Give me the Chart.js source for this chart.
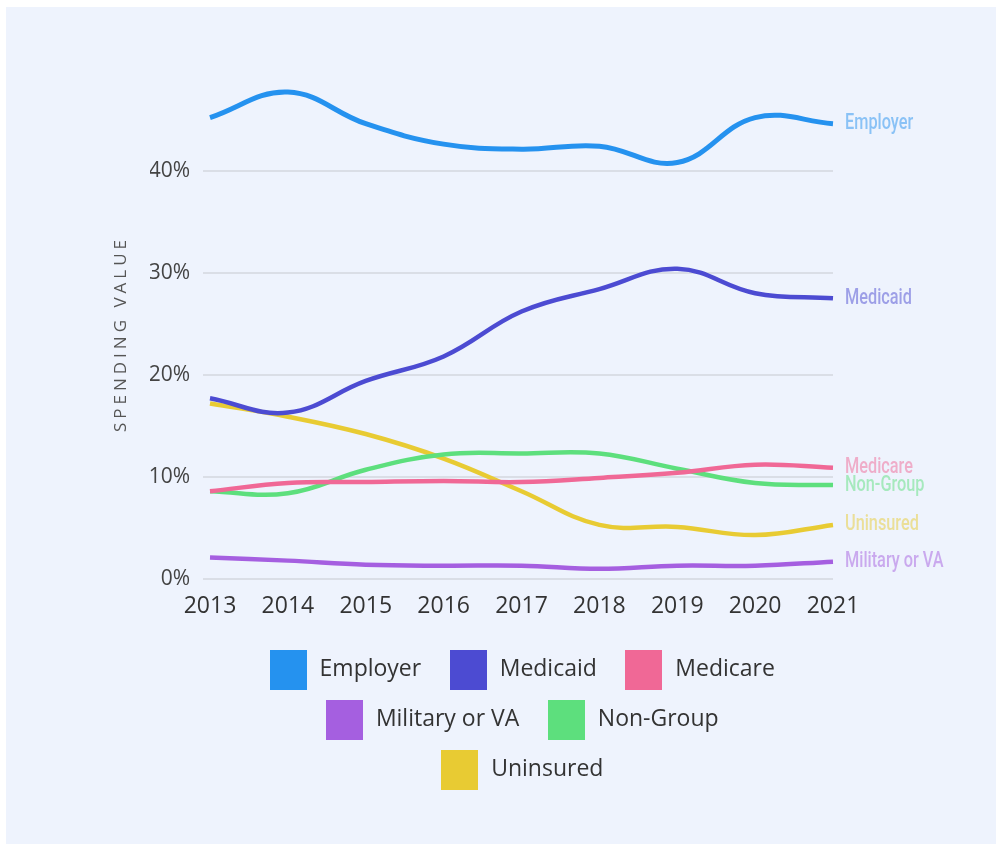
<!DOCTYPE html>
<html>
<head>
<meta charset="utf-8">
<title>Coverage spending</title>
<script src="https://cdn.jsdelivr.net/npm/chart.js@4.4.0/dist/chart.umd.min.js"></script>
<style>
  body { margin: 0; background: #ffffff; }
  #card { position: absolute; left: 6px; top: 7px; width: 990px; height: 837px; background: #eef3fd; }
</style>
</head>
<body>
<div id="card"><canvas id="coverageChart"></canvas></div>
<script>
// Data
const years = ['2013', '2014', '2015', '2016', '2017', '2018', '2019', '2020', '2021'];
const employer = [45.2, 47.7, 44.6, 42.6, 42.1, 42.4, 40.8, 45.2, 44.6];
const medicaid = [17.7, 16.3, 19.4, 21.8, 26.2, 28.4, 30.4, 28.0, 27.5];
const medicare = [8.6, 9.4, 9.5, 9.6, 9.5, 9.9, 10.4, 11.2, 10.9];
const military = [2.1, 1.8, 1.4, 1.3, 1.3, 1.0, 1.3, 1.3, 1.7];
const nonGroup = [8.6, 8.4, 10.7, 12.2, 12.3, 12.3, 10.8, 9.4, 9.2];
const uninsured = [17.2, 15.9, 14.2, 11.8, 8.6, 5.3, 5.1, 4.3, 5.3];

const seriesNames = ['Employer', 'Medicaid', 'Medicare', 'Military or VA', 'Non-Group', 'Uninsured'];
const seriesValues = [employer, medicaid, medicare, military, nonGroup, uninsured];
const seriesColors = ['#2592ef', '#4c4bd2', '#f06896', '#a55fe0', '#5ddf7d', '#e8cb33'];

const yTicks = [0, 10, 20, 30, 40];
const yMax = 48;

// Square legend icons (so the box can be taller than the text line)
function squareIcon(color) {
    const c = document.createElement('canvas');
    c.width = 37;
    c.height = 40;
    const g = c.getContext('2d');
    g.fillStyle = color;
    g.fillRect(0, 0, 37, 40);
    return c;
}
const legendIcons = seriesColors.map(squareIcon);

// Series name written at the end of each line
const endLabels = {
    id: 'endLabels',
    afterDatasetsDraw(chart) {
        const ctx = chart.ctx;
        chart.data.datasets.forEach((ds, i) => {
            const meta = chart.getDatasetMeta(i);
            const pt = meta.data[meta.data.length - 1];
            ctx.save();
            ctx.translate(pt.x + 12, pt.y);
            ctx.scale(0.74, 1);
            ctx.font = '500 22px Roboto';
            ctx.globalAlpha = 0.5;
            ctx.fillStyle = ds.borderColor;
            ctx.textBaseline = 'middle';
            ctx.fillText(ds.label, 0, 0);
            ctx.restore();
        });
    }
};

// Letter-spaced y axis title
const yTitle = {
    id: 'yTitle',
    afterDraw(chart) {
        const ctx = chart.ctx;
        const area = chart.chartArea;
        ctx.save();
        ctx.translate(115, (area.top + area.bottom) / 2);
        ctx.rotate(-Math.PI / 2);
        ctx.font = '17px "Open Sans"';
        ctx.letterSpacing = '4px';
        ctx.fillStyle = '#555555';
        ctx.textAlign = 'center';
        ctx.textBaseline = 'middle';
        ctx.fillText('SPENDING VALUE', 0, 0);
        ctx.restore();
    }
};

const ctx = document.getElementById('coverageChart').getContext('2d');
new Chart(ctx, {
    type: 'line',
    data: {
        labels: years,
        datasets: seriesNames.map((name, i) => ({
            label: name,
            data: seriesValues[i],
            borderColor: seriesColors[i],
            backgroundColor: seriesColors[i],
            borderWidth: i === 0 ? 5 : 4.5,
            pointRadius: 0,
            tension: 0.4,
            clip: 10
        }))
    },
    options: {
        responsive: true,
        maintainAspectRatio: false,
        animation: false,
        layout: { padding: { top: 82, left: 144, right: 163, bottom: 53 } },
        plugins: {
            tooltip: { enabled: false },
            legend: {
                position: 'bottom',
                fullSize: false,
                labels: {
                    usePointStyle: true,
                    pointStyleWidth: 40,
                    padding: 27,
                    color: '#333333',
                    font: { family: '"Open Sans"', size: 23 },
                    generateLabels(chart) {
                        const items = Chart.defaults.plugins.legend.labels.generateLabels(chart);
                        items.forEach((item, i) => { item.pointStyle = legendIcons[i]; });
                        return items;
                    }
                }
            }
        },
        scales: {
            x: {
                grid: { display: false, drawTicks: false },
                border: { display: false },
                ticks: { color: '#333333', padding: 14, font: { family: '"Open Sans"', size: 23 } },
                afterFit(axis) { axis.height = 52; }
            },
            y: {
                min: 0,
                max: yMax,
                grid: { color: '#dadee6', lineWidth: 2, tickLength: 7 },
                border: { display: false },
                ticks: {
                    stepSize: 10,
                    padding: 13,
                    color: '#444444',
                    font: { family: '"Open Sans"', size: 21 },
                    callback: (v) => v + '%'
                },
                afterBuildTicks(axis) {
                    axis.ticks = axis.ticks.filter(t => yTicks.includes(t.value));
                },
                afterFit(axis) { axis.width = 60; }
            }
        }
    },
    plugins: [endLabels, yTitle]
});
</script>
</body>
</html>
